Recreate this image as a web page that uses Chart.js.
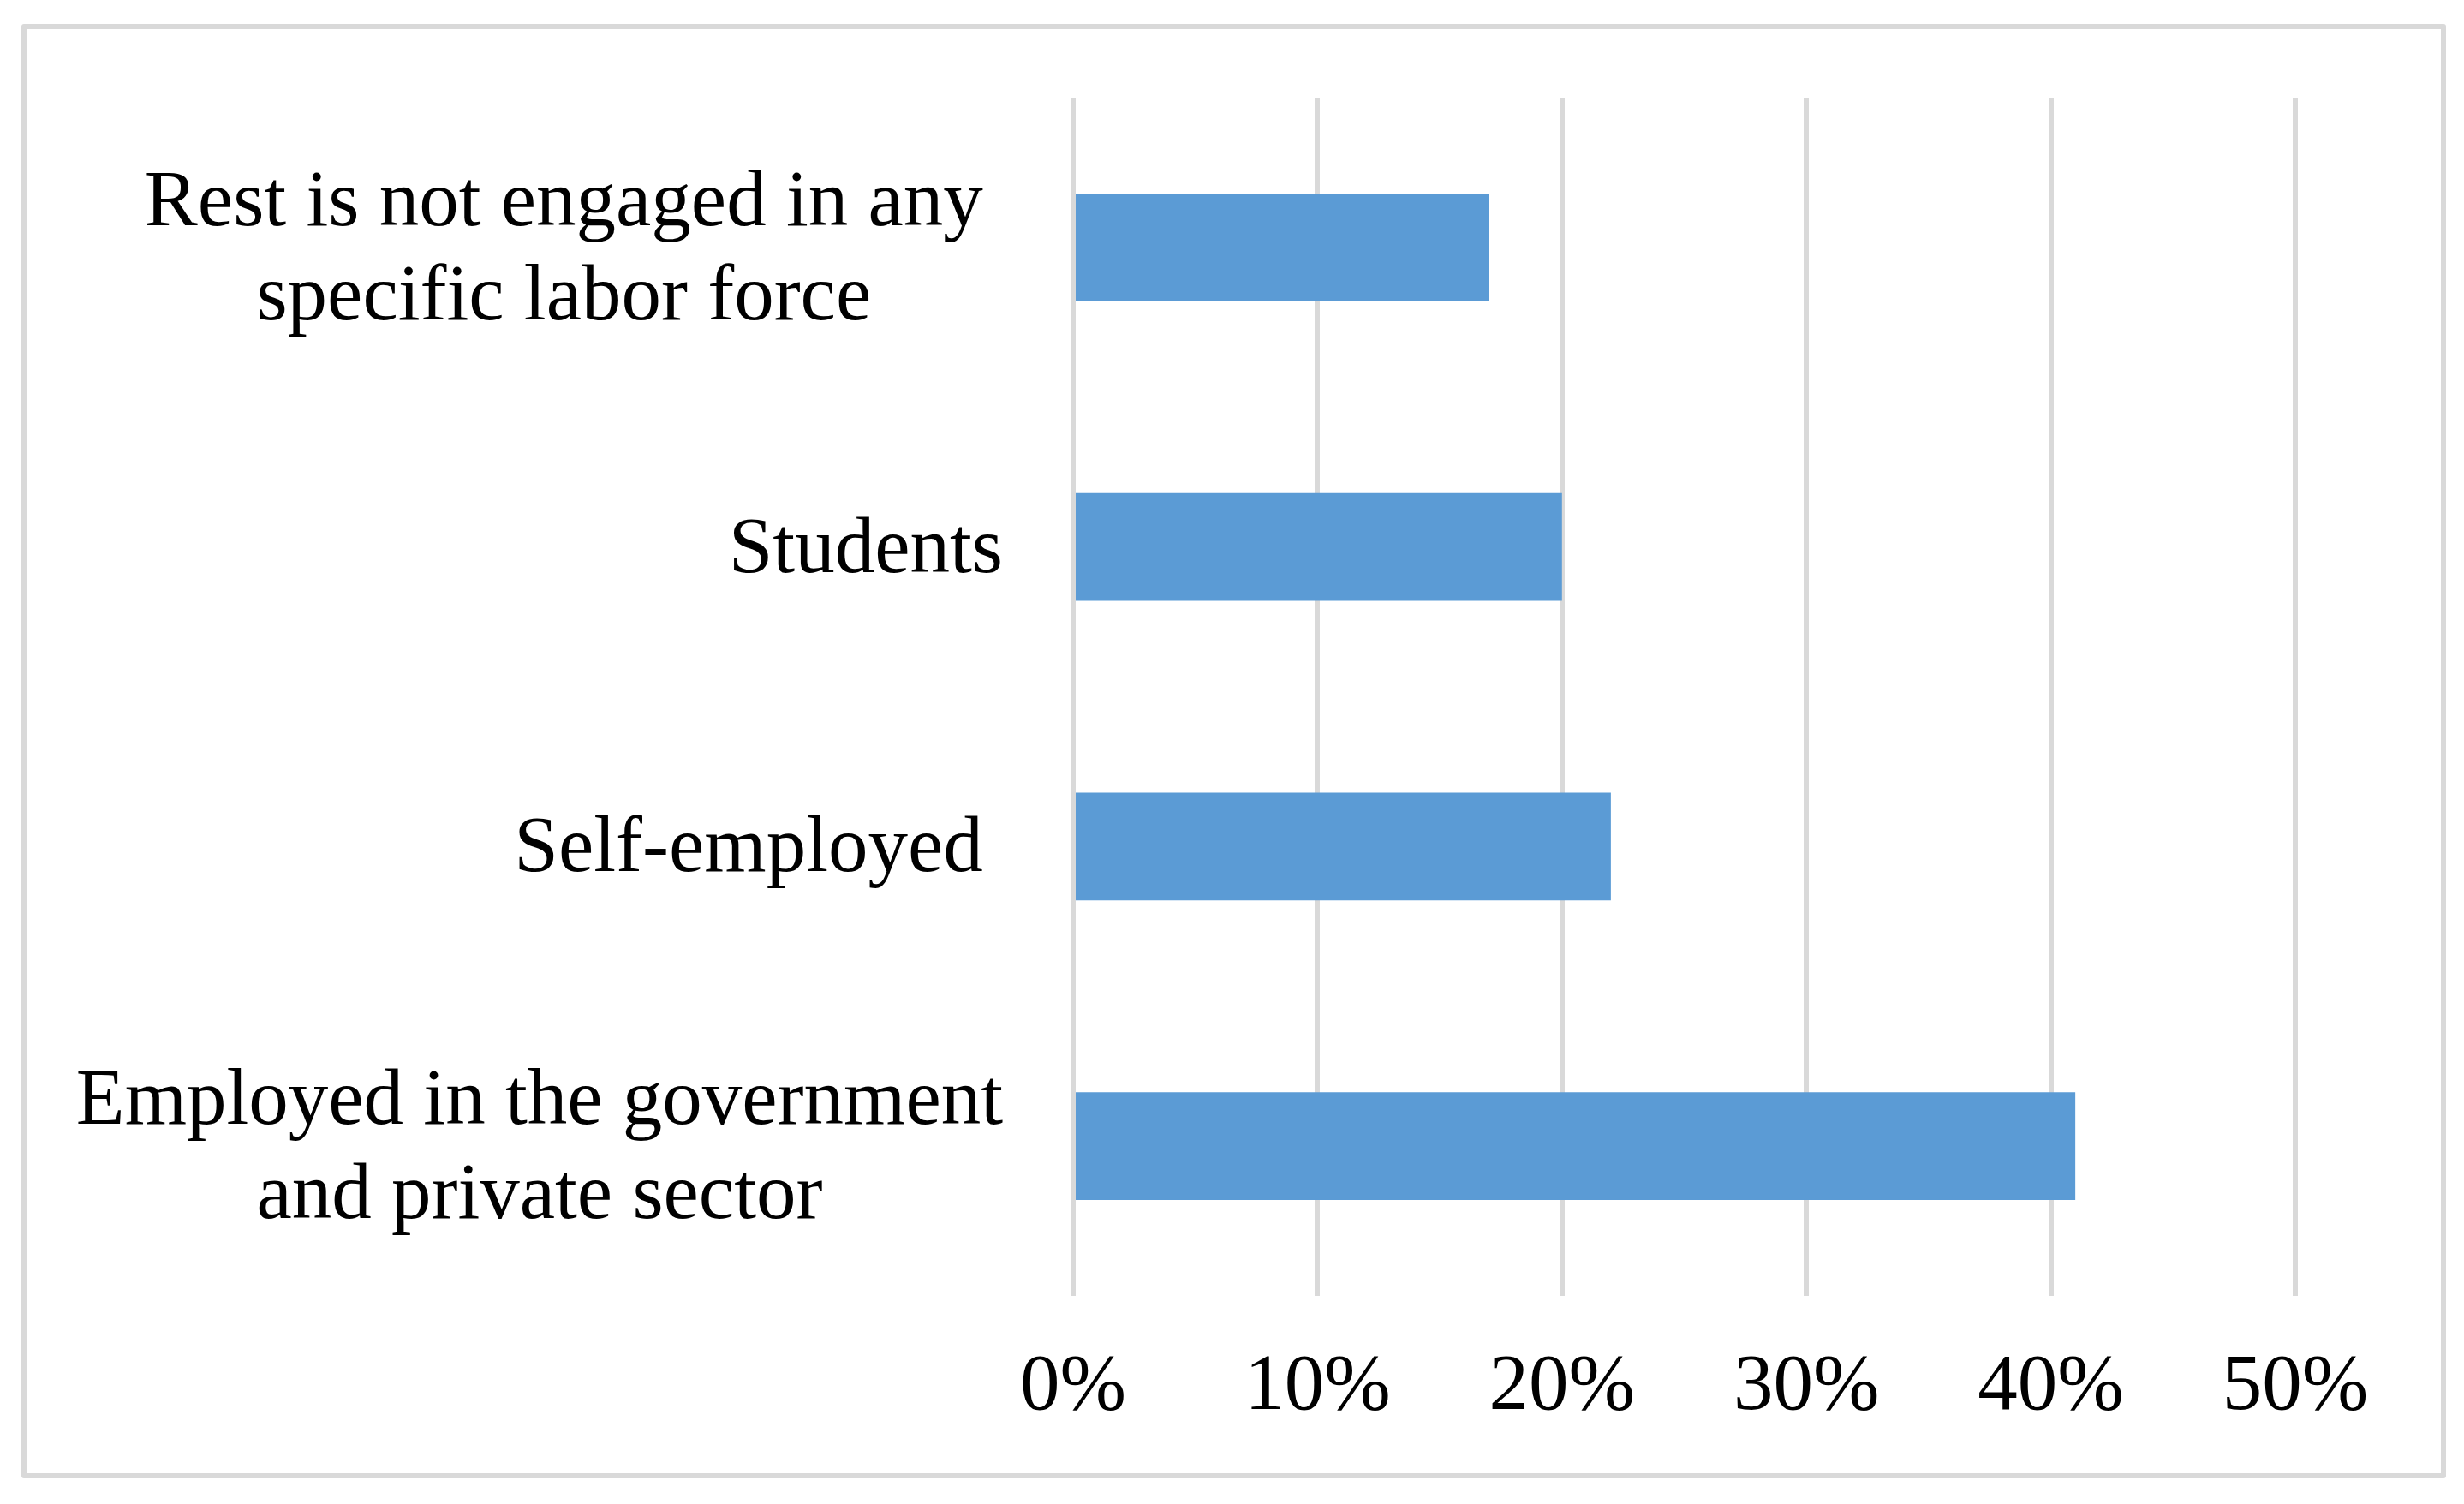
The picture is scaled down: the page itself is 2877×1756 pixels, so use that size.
<!DOCTYPE html>
<html>
<head>
<meta charset="utf-8">
<script src="https://cdn.jsdelivr.net/npm/chart.js@4"></script>
<style>
  html, body { margin: 0; padding: 0; background: #fff; }
  body { width: 2877px; height: 1756px; position: relative; overflow: hidden; }
  #frame { position: absolute; left: 25px; top: 28px; width: 2819px; height: 1686px; border: 6px solid #d9d9d9; border-radius: 3px; }
  #wrap { position: absolute; left: 0; top: 0; width: 2877px; height: 1756px; }
</style>
</head>
<body>
<div id="frame"></div>
<div id="wrap"><canvas id="c" width="2877" height="1756"></canvas></div>
<script>
// Data
const categories = [
  ["Rest is not engaged in any ", "specific labor force"],
  ["Students"],
  ["Self-employed "],
  ["Employed in the government", "and private sector"]
];
const values = [17, 20, 22, 41];
const tickValues = [0, 10, 20, 30, 40, 50];
const tickSuffix = "%";

const FONT = "Liberation Serif, 'Times New Roman', serif";
const FONT_SIZE = 93;

const labelPlugin = {
  id: 'blockLabels',
  afterDraw(chart) {
    const ctx = chart.ctx;
    const scale = chart.scales.y;
    ctx.save();
    ctx.font = FONT_SIZE + "px " + FONT;
    ctx.fillStyle = "#000";
    ctx.textAlign = "center";
    ctx.textBaseline = "alphabetic";
    const R = scale.right - 82;
    categories.forEach((lines, i) => {
      const cy = scale.getPixelForTick(i);
      let maxW = 0, trail = 0;
      lines.forEach(l => {
        const t = l.replace(/\s+$/, '');
        const wt = ctx.measureText(t).width;
        maxW = Math.max(maxW, wt);
        trail = Math.max(trail, ctx.measureText(l).width - wt);
      });
      const cx = R - trail - maxW / 2;
      const n = lines.length;
      lines.forEach((l, k) => {
        const y = cy + 29 + (k - (n - 1) / 2) * 110;
        ctx.fillText(l.replace(/\s+$/, ''), cx, y);
      });
    });
    ctx.restore();
  }
};

new Chart(document.getElementById('c'), {
  type: 'bar',
  data: {
    labels: categories,
    datasets: [{
      data: values,
      backgroundColor: '#5b9bd5',
      borderWidth: 0,
      categoryPercentage: 1.0,
      barPercentage: 0.36
    }]
  },
  options: {
    indexAxis: 'y',
    responsive: false,
    animation: false,
    devicePixelRatio: 1,
    layout: { padding: { left: 40, right: 197, top: 114, bottom: 0 } },
    plugins: { legend: { display: false }, tooltip: { enabled: false } },
    scales: {
      x: {
        min: tickValues[0],
        max: tickValues[tickValues.length - 1],
        afterBuildTicks(scale) { scale.ticks = tickValues.map(v => ({ value: v })); },
        afterFit(scale) { scale.height = 1756 - 1513; },
        grid: { color: '#d9d9d9', lineWidth: 6, drawTicks: false },
        border: { display: false },
        ticks: {
          padding: 52,
          color: '#000',
          font: { family: FONT, size: FONT_SIZE, lineHeight: 1.2 },
          callback: v => v + tickSuffix,
          maxRotation: 0
        }
      },
      y: {
        afterFit(scale) { scale.width = 1253 - 40; },
        grid: { display: false, drawTicks: false },
        border: { display: false },
        ticks: { display: false }
      }
    }
  },
  plugins: [labelPlugin]
});
</script>
</body>
</html>
